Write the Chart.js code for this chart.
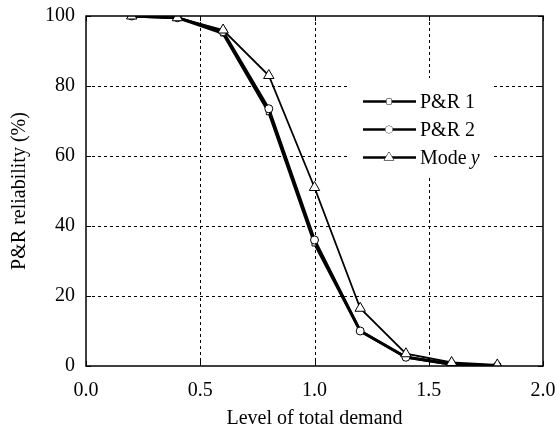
<!DOCTYPE html>
<html>
<head>
<meta charset="utf-8">
<script src="https://cdn.jsdelivr.net/npm/chart.js@4"></script>
<style>
  html, body { margin: 0; padding: 0; background: #fff; }
  #wrap { width: 557px; height: 434px; position: relative; }
</style>
</head>
<body>
<div id="wrap"><canvas id="chart"></canvas></div>
<script>
//----------- data -----------//
const demandLevels = [0.2, 0.4, 0.6, 0.8, 1.0, 1.2, 1.4, 1.6, 1.8];
const pr1Values   = [100, 99.5, 95, 72.5, 35, 10, 2.5, 0.5, 0];
const pr2Values   = [100, 99.5, 95.5, 73.5, 36, 10, 2.5, 0.5, 0];
const modeYValues = [100, 99.5, 96, 83, 51, 16.5, 3.5, 1, 0.3];
const seriesNames = ['P&R 1', 'P&R 2', 'Mode y'];
const xTicks = [0, 0.5, 1.0, 1.5, 2.0];
const yTicks = [0, 20, 40, 60, 80, 100];

const serif = "'Liberation Serif', 'DejaVu Serif', serif";

function points(vals) {
  return demandLevels.map((x, i) => ({ x: x, y: vals[i] }));
}

// dashed grid under the lines
const gridPlugin = {
  id: 'dashgrid',
  beforeDatasetsDraw(chart) {
    const ctx = chart.ctx;
    const a = chart.chartArea;
    const xs = chart.scales.x, ys = chart.scales.y;
    ctx.save();
    ctx.strokeStyle = '#000';
    ctx.lineWidth = 1;
    ctx.setLineDash([3, 3]);
    xTicks.slice(1, -1).forEach(v => {
      const px = Math.round(xs.getPixelForValue(v)) + 0.5;
      ctx.beginPath(); ctx.moveTo(px, a.top); ctx.lineTo(px, a.bottom); ctx.stroke();
    });
    yTicks.slice(1, -1).forEach(v => {
      const py = Math.round(ys.getPixelForValue(v)) + 0.5;
      ctx.beginPath(); ctx.moveTo(a.left, py); ctx.lineTo(a.right, py); ctx.stroke();
    });
    ctx.restore();
  }
};

// inner ticks, frame and the line+marker legend
const framePlugin = {
  id: 'frame',
  afterDraw(chart) {
    const ctx = chart.ctx;
    const a = chart.chartArea;
    const xs = chart.scales.x, ys = chart.scales.y;
    ctx.save();
    ctx.strokeStyle = '#000';
    ctx.lineWidth = 1;
    ctx.setLineDash([]);
    xTicks.forEach(v => {
      const px = Math.round(xs.getPixelForValue(v)) + 0.5;
      ctx.beginPath();
      ctx.moveTo(px, a.bottom); ctx.lineTo(px, a.bottom - 5);
      ctx.moveTo(px, a.top); ctx.lineTo(px, a.top + 5);
      ctx.stroke();
    });
    yTicks.forEach(v => {
      const py = Math.round(ys.getPixelForValue(v)) + 0.5;
      ctx.beginPath();
      ctx.moveTo(a.left, py); ctx.lineTo(a.left + 5, py);
      ctx.moveTo(a.right, py); ctx.lineTo(a.right - 5, py);
      ctx.stroke();
    });
    ctx.lineWidth = 1.5;
    ctx.strokeRect(a.left, a.top, a.right - a.left, a.bottom - a.top);

    // legend box
    const bx = 350, by = 78, bw = 144, bh = 100;
    ctx.fillStyle = '#fff';
    ctx.fillRect(bx, by, bw, bh);
    chart.data.datasets.forEach((ds, i) => {
      const cy = 101.5 + i * 28;
      ctx.strokeStyle = '#000';
      ctx.lineWidth = 2.5;
      ctx.beginPath();
      ctx.moveTo(363, cy); ctx.lineTo(416, cy);
      ctx.stroke();
      ctx.lineWidth = 1;
      ctx.fillStyle = '#fff';
      Chart.helpers.drawPoint(ctx, {
        pointStyle: ds.pointStyle,
        radius: ds.pointStyle === 'triangle' ? 5.5 : 3.5,
        rotation: 0,
        borderWidth: 1
      }, 389, cy);
      ctx.fill();
      ctx.fillStyle = '#000';
      ctx.font = '20px ' + serif;
      ctx.textBaseline = 'middle';
      ctx.textAlign = 'left';
      if (ds.label === 'Mode y') {
        ctx.fillText('Mode ', 420, cy + 1);
        const w = ctx.measureText('Mode ').width;
        ctx.font = 'italic 20px ' + serif;
        ctx.fillText('y', 420 + w - 1, cy + 1);
      } else {
        ctx.fillText(ds.label, 420, cy + 1);
      }
    });
    ctx.restore();
  }
};

new Chart(document.getElementById('chart'), {
  type: 'line',
  data: {
    datasets: [
      {
        label: seriesNames[0],
        data: points(pr1Values),
        borderColor: '#000', borderWidth: 2.8,
        pointStyle: 'rect', pointRadius: 3.5,
        pointBackgroundColor: '#fff', pointBorderColor: '#000', pointBorderWidth: 1,
        tension: 0, order: 3
      },
      {
        label: seriesNames[1],
        data: points(pr2Values),
        borderColor: '#000', borderWidth: 2.8,
        pointStyle: 'circle', pointRadius: 4,
        pointBackgroundColor: '#fff', pointBorderColor: '#000', pointBorderWidth: 1,
        tension: 0, order: 2
      },
      {
        label: seriesNames[2],
        data: points(modeYValues),
        borderColor: '#000', borderWidth: 1.8,
        pointStyle: 'triangle', pointRadius: 6,
        pointBackgroundColor: '#fff', pointBorderColor: '#000', pointBorderWidth: 1,
        tension: 0, order: 1
      }
    ]
  },
  options: {
    responsive: true,
    maintainAspectRatio: false,
    animation: false,
    layout: { padding: { top: 16, right: 14, left: 0, bottom: 0 } },
    plugins: {
      legend: { display: false },
      tooltip: { enabled: false }
    },
    scales: {
      x: {
        type: 'linear',
        min: 0, max: 2,
        afterBuildTicks: s => { s.ticks = xTicks.map(v => ({ value: v })); },
        afterFit: s => { s.height = 68; s.paddingLeft = 0; s.paddingRight = 0; },
        grid: { display: false, drawTicks: false },
        border: { display: false },
        ticks: {
          color: '#000', padding: 13, maxRotation: 0,
          font: { family: serif, size: 20 },
          callback: v => v.toFixed(1)
        },
        title: {
          display: true, text: 'Level of total demand', color: '#000',
          font: { family: serif, size: 20 }, padding: { top: 0, bottom: 3 }
        }
      },
      y: {
        min: 0, max: 100,
        afterBuildTicks: s => { s.ticks = yTicks.map(v => ({ value: v })); },
        afterFit: s => { s.width = 86; s.paddingTop = 0; s.paddingBottom = 0; },
        grid: { display: false, drawTicks: false },
        border: { display: false },
        ticks: {
          color: '#000', padding: 11,
          font: { family: serif, size: 20 }
        },
        title: {
          display: true, text: 'P&R reliability (%)', color: '#000',
          font: { family: serif, size: 20 }, padding: { top: 8, bottom: 0 }
        }
      }
    }
  },
  plugins: [gridPlugin, framePlugin]
});
</script>
</body>
</html>
